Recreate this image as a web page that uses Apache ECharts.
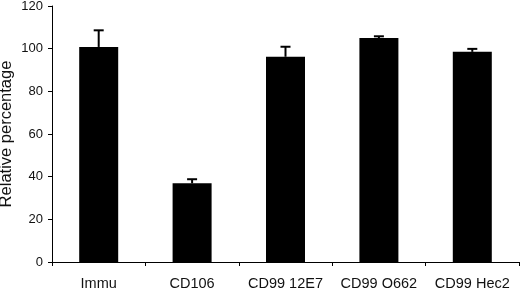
<!DOCTYPE html>
<html>
<head>
<meta charset="utf-8">
<script src="https://cdn.jsdelivr.net/npm/echarts@6/dist/echarts.min.js"></script>
<style>
  html, body { margin:0; padding:0; background:#fff; }
  #chart { width:520px; height:288px; }
</style>
</head>
<body>
<div id="chart"></div>
<script>
const categories = ['Immu', 'CD106', 'CD99 12E7', 'CD99 O662', 'CD99 Hec2'];
const means = [100.8, 36.9, 96.2, 105.0, 98.5];
const errors = [7.8, 1.9, 4.7, 0.8, 1.4];
const yTicks = [0, 20, 40, 60, 80, 100, 120];

const myChart = echarts.init(document.getElementById('chart'));

// upper error bar only; the bar hides the lower half
const errorData = categories.map((c, i) => [i, means[i], means[i] + errors[i]]);

const option = {
    animation: false,
    textStyle: { fontFamily: 'Liberation Sans, Arial, sans-serif' },
    grid: { left: 52, right: 1, top: 6, bottom: 26, containLabel: false, outerBoundsMode: 'none' },
    xAxis: {
        type: 'category',
        data: categories,
        axisLine: { lineStyle: { color: '#000', width: 1 } },
        axisTick: { show: true, length: 4, lineStyle: { color: '#000' } },
        axisLabel: { color: '#111', fontSize: 14.5, margin: 14, interval: 0, hideOverlap: false }
    },
    yAxis: {
        type: 'value',
        min: yTicks[0],
        max: yTicks[yTicks.length - 1],
        interval: 20,
        name: 'Relative percentage',
        nameLocation: 'middle',
        nameGap: 37,
        nameMoveOverlap: false,
        nameTextStyle: { color: '#111', fontSize: 16.5 },
        axisLine: { show: true, lineStyle: { color: '#000', width: 1 } },
        axisTick: { show: true, length: 4, lineStyle: { color: '#000' } },
        axisLabel: { color: '#111', fontSize: 13, margin: 9 },
        splitLine: { show: false }
    },
    series: [
        {
            type: 'bar',
            data: means,
            barWidth: 39,
            itemStyle: { color: '#000' }
        },
        {
            type: 'custom',
            data: errorData,
            z: 3,
            renderItem: (params, api) => {
                const x = api.value(0);
                const low = api.coord([x, api.value(1)]);
                const high = api.coord([x, api.value(2)]);
                const half = 5;
                const style = { stroke: '#000', lineWidth: 2 };
                return {
                    type: 'group',
                    children: [
                        { type: 'line', shape: { x1: low[0], y1: low[1], x2: high[0], y2: high[1] }, style },
                        { type: 'line', shape: { x1: high[0] - half, y1: high[1], x2: high[0] + half, y2: high[1] }, style }
                    ]
                };
            }
        }
    ]
};
myChart.setOption(option);
</script>
</body>
</html>
